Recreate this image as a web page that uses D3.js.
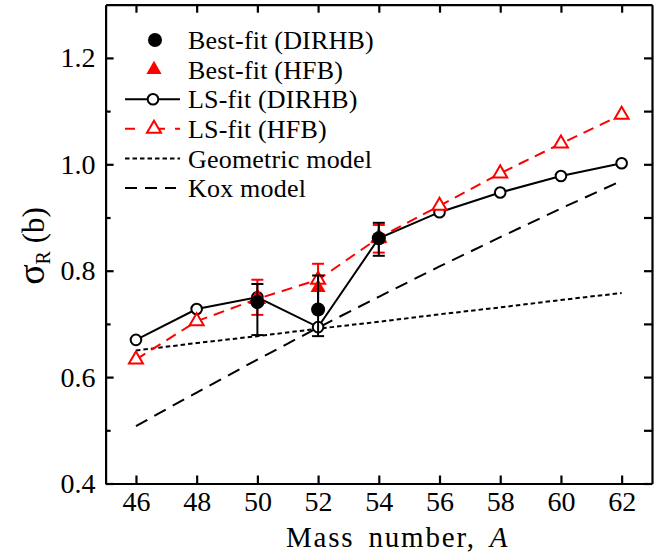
<!DOCTYPE html>
<html><head><meta charset="utf-8">
<script src="https://cdn.jsdelivr.net/npm/d3@7"></script>
<style>
body{margin:0;background:#fff}
svg{display:block}
text{font-family:"Liberation Serif","Times New Roman",serif;fill:#000}
</style>
</head><body>
<svg id="chart" width="668" height="556"></svg>
<script>
// ---- data ----
const massNumbers = [46, 48, 50, 52, 54, 56, 58, 60, 62];
const lsFitDIRHB = [0.670, 0.728, 0.750, 0.694, 0.861, 0.910, 0.947, 0.978, 1.002];
const lsFitHFB = [0.633, 0.705, 0.747, 0.783, 0.862, 0.922, 0.983, 1.039, 1.093];
const geometricModel = [0.650, 0.664, 0.677, 0.691, 0.704, 0.718, 0.731, 0.745, 0.758];
const koxModel = [0.508, 0.571, 0.633, 0.693, 0.751, 0.808, 0.863, 0.917, 0.969];

const bestFitMass = [50, 52, 54];
const bestFitDIRHB = [0.741, 0.727, 0.861];
const bestFitDIRHBErrUp = [0.034, 0.064, 0.029];
const bestFitDIRHBErrDown = [0.062, 0.050, 0.033];
const bestFitHFB = [0.750, 0.768, 0.860];
const bestFitHFBErr = [0.033, 0.045, 0.026];

const xTicks = [46, 48, 50, 52, 54, 56, 58, 60, 62];
const yTicks = [0.4, 0.6, 0.8, 1.0, 1.2];
const yMinorTicks = [0.5, 0.7, 0.9, 1.1];
const legendLabels = ["Best-fit (DIRHB)", "Best-fit (HFB)", "LS-fit (DIRHB)", "LS-fit (HFB)", "Geometric model", "Kox model"];

(function () {
const svg = d3.select("#chart");
const X0 = 105.6, X1 = 652, Y0 = 483.5, Y1 = 4.7;
const x = d3.scaleLinear().domain([45, 63]).range([X0, X1]);
const y = d3.scaleLinear().domain([0.4, 1.3]).range([Y0, Y1]);
const RED = "#ff0000";

const g = svg.append("g");
const line = d3.line().x(d => x(d[0])).y(d => y(d[1]));
const zip = (a, b) => a.map((v, i) => [v, b[i]]);

g.append("path").attr("d", line(zip(massNumbers, geometricModel)))
  .attr("fill", "none").attr("stroke", "#000").attr("stroke-width", 2).attr("stroke-dasharray", "4.5,3");
g.append("path").attr("d", line(zip(massNumbers, koxModel)))
  .attr("fill", "none").attr("stroke", "#000").attr("stroke-width", 2).attr("stroke-dasharray", "13,8");
g.append("path").attr("d", line(zip(massNumbers, lsFitDIRHB)))
  .attr("fill", "none").attr("stroke", "#000").attr("stroke-width", 2);
g.append("path").attr("d", line(zip(massNumbers, lsFitHFB)))
  .attr("fill", "none").attr("stroke", RED).attr("stroke-width", 2).attr("stroke-dasharray", "11,7");

const tri = d3.symbol().type(d3.symbolTriangle).size(100);
const triOpen = d3.symbol().type(d3.symbolTriangle).size(85);

g.selectAll(".lsc").data(zip(massNumbers, lsFitDIRHB)).join("circle")
  .attr("cx", d => x(d[0])).attr("cy", d => y(d[1])).attr("r", 5.3)
  .attr("fill", "#fff").attr("stroke", "#000").attr("stroke-width", 2);
g.selectAll(".lst").data(zip(massNumbers, lsFitHFB)).join("path")
  .attr("d", triOpen).attr("transform", d => `translate(${x(d[0])},${y(d[1])})`)
  .attr("fill", "#fff").attr("stroke", RED).attr("stroke-width", 2);

function errBar(xv, lo, hi, color) {
  const cx = x(xv), w = 6;
  g.append("line").attr("x1", cx).attr("x2", cx).attr("y1", y(lo)).attr("y2", y(hi))
    .attr("stroke", color).attr("stroke-width", 2);
  [lo, hi].forEach(v => g.append("line").attr("x1", cx - w).attr("x2", cx + w)
    .attr("y1", y(v)).attr("y2", y(v)).attr("stroke", color).attr("stroke-width", 2));
}

bestFitMass.forEach((m, i) => errBar(m, bestFitHFB[i] - bestFitHFBErr[i], bestFitHFB[i] + bestFitHFBErr[i], RED));
g.selectAll(".bft").data(zip(bestFitMass, bestFitHFB)).join("path")
  .attr("d", tri).attr("transform", d => `translate(${x(d[0])},${y(d[1])})`)
  .attr("fill", RED);

bestFitMass.forEach((m, i) => errBar(m, bestFitDIRHB[i] - bestFitDIRHBErrDown[i], bestFitDIRHB[i] + bestFitDIRHBErrUp[i], "#000"));
g.selectAll(".bfc").data(zip(bestFitMass, bestFitDIRHB)).join("circle")
  .attr("cx", d => x(d[0])).attr("cy", d => y(d[1])).attr("r", 7).attr("fill", "#000");

// ---- axes ----
const axW = 2.2;
function styleAxis(sel) {
  sel.select(".domain").attr("stroke-width", axW);
  sel.selectAll(".tick line").attr("stroke-width", axW);
  sel.selectAll(".tick text").attr("font-size", 28).attr("font-family", '"Liberation Serif",serif');
}
const axBottom = svg.append("g").attr("transform", `translate(0,${Y0})`)
  .call(d3.axisBottom(x).tickValues(xTicks).tickSize(-8).tickSizeOuter(0).tickPadding(8));
styleAxis(axBottom);
const axTop = svg.append("g").attr("transform", `translate(0,${Y1})`)
  .call(d3.axisTop(x).tickValues(xTicks).tickSize(-8).tickSizeOuter(0).tickFormat(""));
styleAxis(axTop);
const axLeft = svg.append("g").attr("transform", `translate(${X0},0)`)
  .call(d3.axisLeft(y).tickValues(yTicks).tickSize(-8).tickSizeOuter(0).tickPadding(10).tickFormat(d3.format(".1f")));
styleAxis(axLeft);
const axLeftMinor = svg.append("g").attr("transform", `translate(${X0},0)`)
  .call(d3.axisLeft(y).tickValues(yMinorTicks).tickSize(-5).tickSizeOuter(0).tickFormat(""));
styleAxis(axLeftMinor);
axLeftMinor.select(".domain").remove();
const axRight = svg.append("g").attr("transform", `translate(${X1},0)`)
  .call(d3.axisRight(y).tickValues(yTicks.concat(yMinorTicks)).tickSize(-8).tickSizeOuter(0).tickFormat(""));
styleAxis(axRight);

svg.append("text").attr("x", 286).attr("y", 547).attr("text-anchor", "start")
  .attr("font-size", 29).attr("letter-spacing", 1.8).attr("word-spacing", 5)
  .call(t => { t.append("tspan").text("Mass number, "); t.append("tspan").attr("font-style", "italic").text("A"); });

const yt = svg.append("text").attr("transform", "translate(44,246) rotate(-90)").attr("text-anchor", "middle")
  .attr("font-size", 31);
yt.append("tspan").attr("font-size", 38).text("σ");
yt.append("tspan").attr("font-size", 20).attr("dy", 6).text("R");
yt.append("tspan").attr("dy", -6).text(" (b)");

// ---- legend ----
const lg = svg.append("g");
const lgX = 188, lgY0 = 40, lgDy = 29.6;
const ly = i => lgY0 + i * lgDy;
legendLabels.forEach((lab, i) => {
  lg.append("text").attr("x", lgX).attr("y", ly(i)).attr("dy", "0.35em")
    .attr("font-size", 26).attr("letter-spacing", 0.2).text(lab);
});
lg.append("circle").attr("cx", 155).attr("cy", ly(0)).attr("r", 7).attr("fill", "#000");
lg.append("path").attr("d", tri).attr("transform", `translate(154,${ly(1)})`).attr("fill", RED);
lg.append("line").attr("x1", 125).attr("x2", 180).attr("y1", ly(2)).attr("y2", ly(2)).attr("stroke", "#000").attr("stroke-width", 2);
lg.append("circle").attr("cx", 153).attr("cy", ly(2)).attr("r", 5.3).attr("fill", "#fff").attr("stroke", "#000").attr("stroke-width", 2);
lg.append("line").attr("x1", 125).attr("x2", 180).attr("y1", ly(3)).attr("y2", ly(3)).attr("stroke", RED).attr("stroke-width", 2).attr("stroke-dasharray", "10,13,0,10,7");
lg.append("path").attr("d", triOpen).attr("transform", `translate(154,${ly(3)})`).attr("fill", "#fff").attr("stroke", RED).attr("stroke-width", 2);
lg.append("line").attr("x1", 125).attr("x2", 180).attr("y1", ly(4)).attr("y2", ly(4)).attr("stroke", "#000").attr("stroke-width", 2).attr("stroke-dasharray", "4.5,3");
lg.append("line").attr("x1", 125).attr("x2", 176).attr("y1", ly(5)).attr("y2", ly(5)).attr("stroke", "#000").attr("stroke-width", 2).attr("stroke-dasharray", "12,8");
})();
</script>
</body></html>
